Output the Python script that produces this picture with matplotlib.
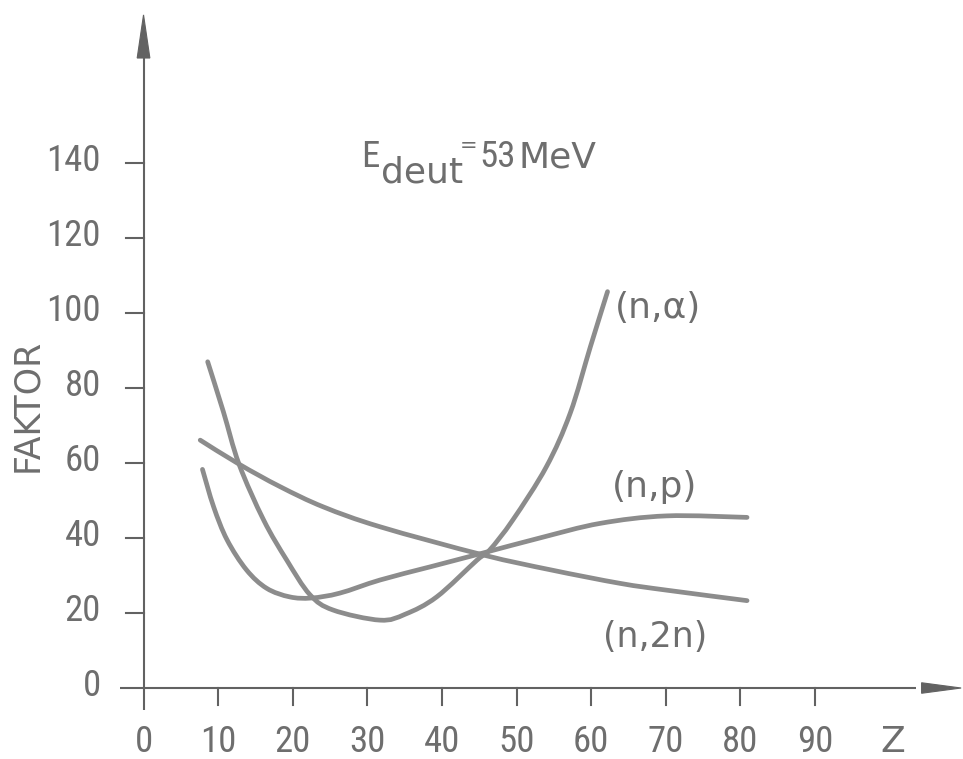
import numpy as np
import matplotlib
matplotlib.use("Agg")
import matplotlib.pyplot as plt
from matplotlib.path import Path
from matplotlib.patches import PathPatch, Polygon

# Reaction curves: Z of the target vs. enhancement factor
z_nalpha = [8.6, 10.7, 12.8, 16.1, 19.2, 22.3, 25.4, 31.7, 35.1, 39.3, 44.7, 46.4, 49.5, 54.0, 57.2, 59.9, 62.2]
f_nalpha = [87.0, 73.7, 59.7, 44.8, 34.1, 24.9, 20.8, 18.1, 19.7, 24.3, 34.1, 36.8, 44.8, 59.0, 73.3, 91.0, 105.7]

z_n2n = [7.6, 12.8, 18.3, 24.1, 31.7, 45.5, 54.6, 63.9, 70.1, 80.9]
f_n2n = [66.1, 59.7, 53.7, 48.3, 43.0, 35.5, 31.5, 27.9, 26.1, 23.3]

z_np = [7.9, 9.4, 11.2, 13.8, 16.5, 19.6, 22.5, 26.3, 31.7, 38.4, 45.5, 53.1, 61.2, 70.1, 80.9]
f_np = [58.3, 48.3, 39.5, 31.5, 26.6, 24.3, 24.0, 25.3, 28.8, 32.3, 36.0, 40.0, 43.9, 45.9, 45.5]

x_ticks = [10, 20, 30, 40, 50, 60, 70, 80, 90]
x_tick_labels = ["0", "10", "20", "30", "40", "50", "60", "70", "80", "90"]
x_label_pos = [0, 10, 20, 30, 40, 50, 60, 70, 80, 90]
y_ticks = [0, 20, 40, 60, 80, 100, 120, 140]

INK = "#6e6e6e"
LINE = "#8c8c8c"
AXC = "#626262"
NUM_FONT = ["Roboto Condensed", "DejaVu Sans"]
TXT_FONT = ["DejaVu Sans"]

fig = plt.figure(figsize=(9.63, 7.59), dpi=100)
fig.patch.set_facecolor("white")
ax = fig.add_axes([0, 0, 1, 1])
ax.set_xlim(-19.24, 109.85)
ax.set_ylim(-18.93, 183.47)
ax.axis("off")


def smooth_path(xs, ys, tension=1 / 6):
    """Catmull-Rom style cubic path passing through every given point."""
    p = np.column_stack([xs, ys]).astype(float)
    verts = [p[0]]
    codes = [Path.MOVETO]
    n = len(p)
    for i in range(n - 1):
        p0 = p[i - 1] if i > 0 else p[i]
        p1 = p[i]
        p2 = p[i + 1]
        p3 = p[i + 2] if i + 2 < n else p[i + 1]
        c1 = p1 + (p2 - p0) * tension
        c2 = p2 - (p3 - p1) * tension
        verts += [c1, c2, p2]
        codes += [Path.CURVE4] * 3
    return Path(verts, codes)


for zs, fs in [(z_nalpha, f_nalpha), (z_n2n, f_n2n), (z_np, f_np)]:
    ax.add_patch(PathPatch(smooth_path(zs, fs), fill=False, edgecolor=LINE,
                           linewidth=3.4, capstyle="round", joinstyle="round"))

# axes with arrow heads
ax.plot([-3.1, 103.5], [0, 0], color=AXC, lw=1.5, solid_capstyle="butt")
ax.plot([0, 0], [-5.9, 170], color=AXC, lw=1.5, solid_capstyle="butt")
ax.add_patch(Polygon([[109.6, 0], [104.3, 1.4], [104.3, -1.4]], closed=True,
                     facecolor=AXC, edgecolor=AXC, lw=0.8))
ax.add_patch(Polygon([[0, 179.5], [-0.85, 168.0], [0.85, 168.0]], closed=True,
                     facecolor=AXC, edgecolor=AXC, lw=0.8))

# ticks
for xt in x_ticks:
    ax.plot([xt, xt], [0, -4.6], color=AXC, lw=1.5)
for yt in y_ticks[1:]:
    ax.plot([-2.4, 0], [yt, yt], color=AXC, lw=1.5)

num_kw = dict(color=INK, fontsize=26.5, family=NUM_FONT)
txt_kw = dict(color=INK, fontsize=26, family=TXT_FONT)

for xp, lab in zip(x_label_pos, x_tick_labels):
    ax.text(xp, -17.0, lab, ha="center", va="baseline", **num_kw)
ax.text(100.5, -17.0, "Z", ha="center", va="baseline", **txt_kw)
for yt in y_ticks:
    ax.text(-5.7, yt + 0.6, str(yt), ha="right", va="center", **num_kw)

ax.text(-15.6, 75.5, "FAKTOR", rotation=90, ha="center", va="center",
        color=INK, fontsize=25, family=TXT_FONT)

# energy annotation
ax.text(29.2, 138.9, "E", ha="left", va="baseline", **num_kw)
ax.text(31.9, 134.7, "deut", ha="left", va="baseline", color=INK, fontsize=26, family=TXT_FONT)
ax.text(43.6, 144.5, "=", ha="center", va="center", color=INK, fontsize=15, family=TXT_FONT)
ax.text(45.0, 138.9, "53", ha="left", va="baseline", **num_kw)
ax.text(50.3, 138.9, "MeV", ha="left", va="baseline", **txt_kw)

# curve labels
ax.text(63.2, 101.3, "(n,α)", ha="left", va="center", **txt_kw)
ax.text(62.8, 53.6, "(n,p)", ha="left", va="center", **txt_kw)
ax.text(61.6, 13.6, "(n,2n)", ha="left", va="center", color=INK, fontsize=25, family=TXT_FONT)

fig.savefig("out.png", dpi=100, facecolor="white")
